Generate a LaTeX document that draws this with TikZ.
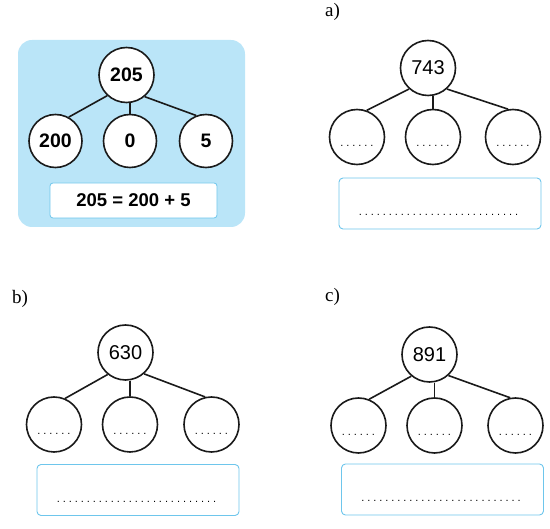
\documentclass[tikz,border=0pt]{standalone}
\usepackage{fontspec}
\setmainfont{Liberation Serif}
\setsansfont{Liberation Sans}
\usetikzlibrary{calc, positioning}
\definecolor{ink}{HTML}{1A1A1A}
\definecolor{sky}{HTML}{BAE5F8}
\definecolor{frame}{HTML}{6EC6EC}
\newcommand{\blankline}[1]{\hbox to #1{\leaders\hbox to 6pt{\hss.\hss}\hfill}}

\begin{document}
\begin{tikzpicture}[
    x=1pt, y=-1pt,
    hub/.style={circle, draw=ink, line width=1.6pt, fill=white, minimum size=55pt, inner sep=0pt, font=\sffamily\fontsize{20}{20}\selectfont},
    part/.style={hub, font=\sffamily\bfseries\fontsize{19.5}{20}\selectfont},
    leaf/.style={hub, text height=20pt, text depth=0pt, font=\sffamily\fontsize{11}{11}\selectfont},
    answer/.style={draw=frame, line width=0.9pt, fill=white, rounded corners=4pt, minimum width=202pt, minimum height=51pt, text height=25pt, text depth=0pt, font=\sffamily\fontsize{11}{11}\selectfont},
    sum/.style={draw=frame, line width=0.8pt, fill=white, rounded corners=3pt, minimum width=167pt, minimum height=35pt, font=\sffamily\bfseries\fontsize{18.5}{20}\selectfont},
    tag/.style={anchor=west, inner sep=0pt, font=\fontsize{19}{19}\selectfont},
    link/.style={ink, line width=1.6pt}
  ]
    \useasboundingbox (0,0) rectangle (550,529);

    % worked example
    \fill[sky, rounded corners=14pt] (18,40) rectangle (245,227);
    \node[part] (e0) at (126.5,75) {205};
    \node[part, minimum size=53pt] (e1) at (55.5,141) {200};
    \node[part, minimum size=53pt] (e2) at (130,141) {0};
    \node[part, minimum size=53pt] (e3) at (206,141) {5};
    \node[sum] (es) at (133.5,200.5) {205 = 200 + 5};
    \draw[link] (e0.-133) -- (e1.61);
    \draw[link] (e2.north |- e0.south) -- (e2.north);
    \draw[link] (e0.-50) -- (e3.111);

    % a)
    \node[tag] (ta) at (325,12) {a)};
    \node[hub] (a0) at (428,68) {743};
    \node[leaf] (a1) at (357,137) {\blankline{36pt}};
    \node[leaf] (a2) at (433,137) {\blankline{36pt}};
    \node[leaf] (a3) at (513,137) {\blankline{36pt}};
    \node[answer] (as) at (440,203.5) {\blankline{165pt}};
    \draw[link] (a0.-132) -- (a1.70);
    \draw[link] (a2.north |- a0.south) -- (a2.north);
    \draw[link] (a0.-48) -- (a3.100);

    % b)
    \node[tag] (tb) at (12,299) {b)};
    \node[hub] (b0) at (125.5,352.5) {630};
    \node[leaf] (b1) at (54,424.5) {\blankline{36pt}};
    \node[leaf] (b2) at (130,424.5) {\blankline{36pt}};
    \node[leaf] (b3) at (211.5,424.5) {\blankline{36pt}};
    \node[answer] (bs) at (138,490) {\blankline{165pt}};
    \draw[link] (b0.-129) -- (b1.67);
    \draw[link] (b2.north |- b0.south) -- (b2.north);
    \draw[link] (b0.-49) -- (b3.103);

    % c)
    \node[tag] (tc) at (325,297) {c)};
    \node[hub] (c0) at (429.5,354.5) {891};
    \node[leaf] (c1) at (358.5,425.5) {\blankline{36pt}};
    \node[leaf] (c2) at (434.5,425.5) {\blankline{36pt}};
    \node[leaf] (c3) at (515.5,425.5) {\blankline{36pt}};
    \node[answer] (cs) at (442.5,489.5) {\blankline{165pt}};
    \draw[link] (c0.-130) -- (c1.68);
    \draw[link] (c2.north |- c0.south) -- (c2.north);
    \draw[link] (c0.-48) -- (c3.101);
\end{tikzpicture}
\end{document}
